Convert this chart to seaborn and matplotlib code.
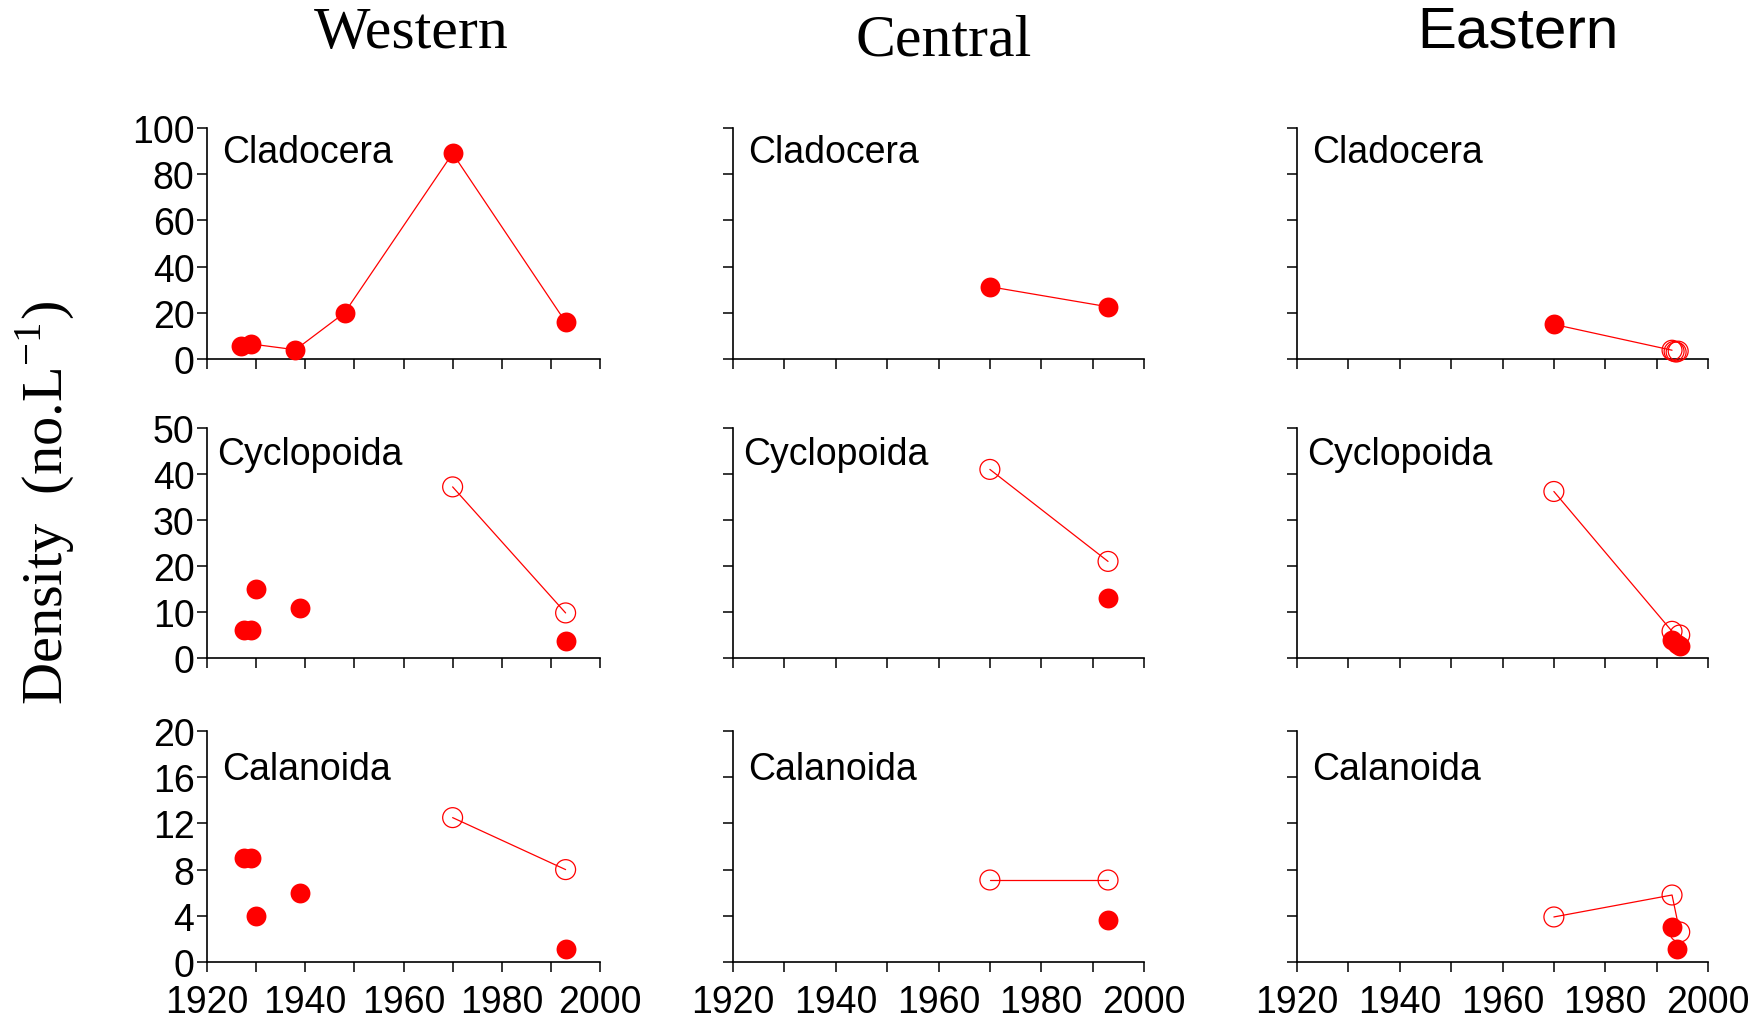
import matplotlib
matplotlib.use('Agg')
import matplotlib.pyplot as plt
import seaborn as sns

sns.set_style('ticks')
plt.rcParams['font.family'] = ['Liberation Sans', 'DejaVu Sans']
plt.rcParams['mathtext.fontset'] = 'stix'
plt.rcParams['text.color'] = 'black'
plt.rcParams['xtick.color'] = 'black'
plt.rcParams['ytick.color'] = 'black'

# Data (year, density in no./L)
regions = ['Western', 'Central', 'Eastern']
taxa = ['Cladocera', 'Cyclopoida', 'Calanoida']
y_max = [100, 50, 20]
y_step = [20, 10, 4]

# Western
w_clad_line_x = [1927, 1929, 1938, 1948, 1970, 1993]
w_clad_line_y = [5.5, 6.5, 4, 20, 89, 16]
w_clad_fill_x = [1927, 1929, 1938, 1948, 1970, 1993]
w_clad_fill_y = [5.5, 6.5, 4, 20, 89, 16]
w_clad_open_x = []
w_clad_open_y = []

w_cycl_line_x = [1970, 1993]
w_cycl_line_y = [37.2, 9.8]
w_cycl_fill_x = [1927.5, 1929, 1930, 1939, 1993]
w_cycl_fill_y = [6, 6, 15, 10.8, 3.8]
w_cycl_open_x = [1970, 1993]
w_cycl_open_y = [37.2, 9.8]

w_cala_line_x = [1970, 1993]
w_cala_line_y = [12.5, 8]
w_cala_fill_x = [1927.5, 1929, 1930, 1939, 1993]
w_cala_fill_y = [9, 9, 4, 6, 1.1]
w_cala_open_x = [1970, 1993]
w_cala_open_y = [12.5, 8]

# Central
c_clad_line_x = [1970, 1993]
c_clad_line_y = [31.3, 22.6]
c_clad_fill_x = [1970, 1993]
c_clad_fill_y = [31.3, 22.6]
c_clad_open_x = []
c_clad_open_y = []

c_cycl_line_x = [1970, 1993]
c_cycl_line_y = [41, 21]
c_cycl_fill_x = [1993]
c_cycl_fill_y = [13]
c_cycl_open_x = [1970, 1993]
c_cycl_open_y = [41, 21]

c_cala_line_x = [1970, 1993]
c_cala_line_y = [7.1, 7.1]
c_cala_fill_x = [1993]
c_cala_fill_y = [3.6]
c_cala_open_x = [1970, 1993]
c_cala_open_y = [7.1, 7.1]

# Eastern
e_clad_line_x = [1970, 1993]
e_clad_line_y = [15, 3.8]
e_clad_fill_x = [1970]
e_clad_fill_y = [15]
e_clad_open_x = [1993, 1993.4, 1993.8, 1994.2]
e_clad_open_y = [3.8, 3.3, 3.0, 3.4]

e_cycl_line_x = [1970, 1993]
e_cycl_line_y = [36.2, 5.8]
e_cycl_fill_x = [1993, 1994, 1994.5]
e_cycl_fill_y = [4, 3, 2.7]
e_cycl_open_x = [1970, 1993, 1994.5]
e_cycl_open_y = [36.2, 5.8, 5]

e_cala_line_x = [1970, 1993, 1994.5]
e_cala_line_y = [3.9, 5.8, 2.6]
e_cala_fill_x = [1993, 1994]
e_cala_fill_y = [3.0, 1.1]
e_cala_open_x = [1970, 1993, 1994.5]
e_cala_open_y = [3.9, 5.8, 2.6]

panels = [
    [(w_clad_line_x, w_clad_line_y, w_clad_fill_x, w_clad_fill_y, w_clad_open_x, w_clad_open_y),
     (c_clad_line_x, c_clad_line_y, c_clad_fill_x, c_clad_fill_y, c_clad_open_x, c_clad_open_y),
     (e_clad_line_x, e_clad_line_y, e_clad_fill_x, e_clad_fill_y, e_clad_open_x, e_clad_open_y)],
    [(w_cycl_line_x, w_cycl_line_y, w_cycl_fill_x, w_cycl_fill_y, w_cycl_open_x, w_cycl_open_y),
     (c_cycl_line_x, c_cycl_line_y, c_cycl_fill_x, c_cycl_fill_y, c_cycl_open_x, c_cycl_open_y),
     (e_cycl_line_x, e_cycl_line_y, e_cycl_fill_x, e_cycl_fill_y, e_cycl_open_x, e_cycl_open_y)],
    [(w_cala_line_x, w_cala_line_y, w_cala_fill_x, w_cala_fill_y, w_cala_open_x, w_cala_open_y),
     (c_cala_line_x, c_cala_line_y, c_cala_fill_x, c_cala_fill_y, c_cala_open_x, c_cala_open_y),
     (e_cala_line_x, e_cala_line_y, e_cala_fill_x, e_cala_fill_y, e_cala_open_x, e_cala_open_y)],
]

W, H = 1764, 1020
fig = plt.figure(figsize=(W / 100, H / 100), dpi=100)

# axes layout in pixels
col_left = [207, 733, 1297]
col_right = [600, 1144, 1708]
row_top = [129, 429, 732]
row_bot = [360, 659, 963]
label_x = [0.038, 0.025, 0.038]
label_y = [0.975, 0.965, 0.915]

for r in range(3):
    for c in range(3):
        ax = fig.add_axes([col_left[c] / W, 1 - row_bot[r] / H,
                           (col_right[c] - col_left[c]) / W,
                           (row_bot[r] - row_top[r]) / H])
        lx, ly, fx, fy, ox, oy = panels[r][c]
        sns.lineplot(x=lx, y=ly, ax=ax, color='red', lw=0.9, sort=False,
                     estimator=None, zorder=2)
        if fx:
            sns.scatterplot(x=fx, y=fy, ax=ax, color='red', s=205,
                            linewidth=0, zorder=3, clip_on=False)
        if ox:
            sns.scatterplot(x=ox, y=oy, ax=ax, facecolor='none',
                            edgecolor='red', s=205, linewidth=0.9,
                            zorder=3, clip_on=False)
        ax.set_xlim(1920, 2000)
        ax.set_ylim(0, y_max[r])
        ax.set_xticks(range(1920, 2001, 10))
        if r == 2:
            ax.set_xticklabels([str(v) if v % 20 == 0 else '' for v in range(1920, 2001, 10)])
        else:
            ax.set_xticklabels([])
        ax.set_yticks(range(0, y_max[r] + 1, y_step[r]))
        if c != 0:
            ax.set_yticklabels([])
        ax.tick_params(axis='both', direction='out', length=7, width=1.1,
                       color='black', labelcolor='black')
        ax.tick_params(axis='y', labelsize=27, pad=2)
        ax.tick_params(axis='x', labelsize=27, pad=9)
        sns.despine(ax=ax)
        for sp in ['left', 'bottom']:
            ax.spines[sp].set_linewidth(1.2)
            ax.spines[sp].set_color('black')
        ax.set_xlabel('')
        ax.set_ylabel('')
        ax.text(label_x[r], label_y[r], taxa[r], transform=ax.transAxes,
                ha='left', va='top', fontsize=27, color='black')

# column titles
fig.text((col_left[0] + col_right[0]) / 2 / W + 8 / W, 1 - 48 / H, regions[0],
         ha='center', va='baseline', fontsize=43, family='Liberation Serif')
fig.text((col_left[1] + col_right[1]) / 2 / W + 5 / W, 1 - 55 / H, regions[1],
         ha='center', va='baseline', fontsize=43, family='Liberation Serif')
fig.text((col_left[2] + col_right[2]) / 2 / W + 15 / W, 1 - 48 / H, regions[2],
         ha='center', va='baseline', fontsize=42, family='Liberation Sans')

fig.text(45 / W, 1 - 503 / H, r'Density  (no.L$^{\mathregular{-1}}$)', rotation=90,
         ha='center', va='center', fontsize=42, family='Liberation Serif')

fig.savefig('out.png', dpi=100)
